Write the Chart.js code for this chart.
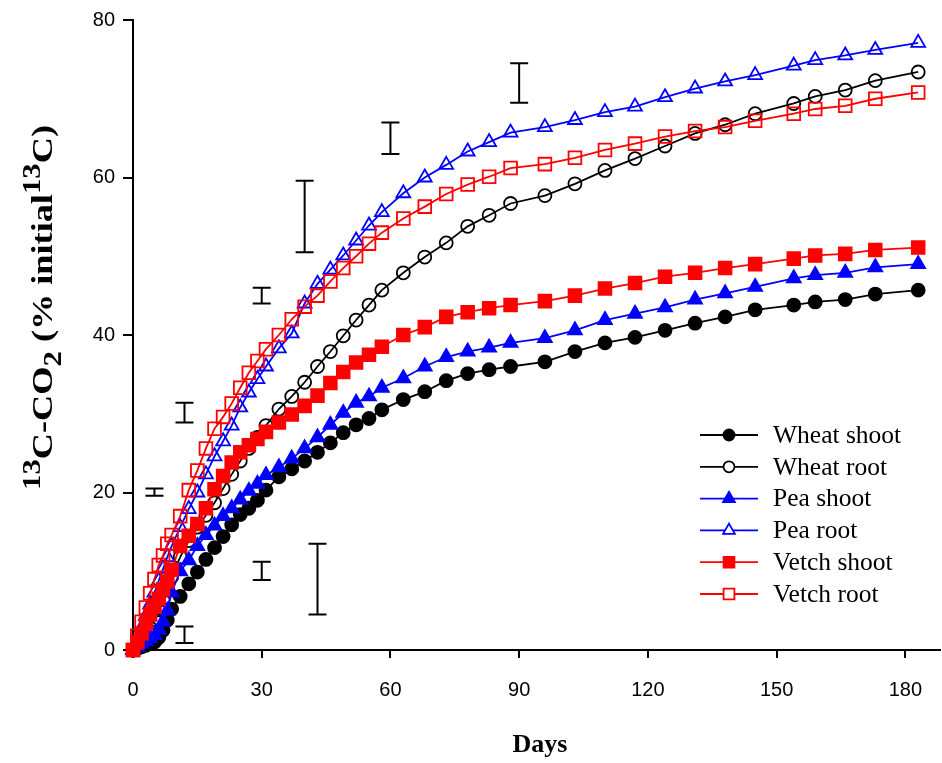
<!DOCTYPE html>
<html>
<head>
<meta charset="utf-8">
<script src="https://cdn.jsdelivr.net/npm/chart.js@4.4.1/dist/chart.umd.min.js"></script>
<style>
  html, body { margin: 0; padding: 0; background: #fff; }
  #wrap { width: 942px; height: 763px; }
</style>
</head>
<body>
<div id="wrap"><canvas id="chart" width="942" height="763"></canvas></div>
<script>
// sampling days
const days = [0, 1, 2, 3, 4, 5, 6, 7, 8, 9,
  11, 13, 15, 17, 19,
  21, 23, 25, 27, 29, 31,
  34, 37, 40, 43, 46, 49, 52, 55, 58,
  63, 68, 73, 78, 83, 88,
  96, 103, 110, 117, 124, 131, 138, 145,
  154, 159, 166, 173, 183];

// 13C-CO2 (% initial 13C)
const wheatShoot = [0, 0.2, 0.4, 0.6, 0.9, 1.0, 1.6, 2.5, 3.8, 5.2,
  6.8, 8.4, 9.9, 11.5, 13.0,
  14.4, 15.9, 17.2, 18.0, 19.0, 20.3,
  22.0, 23.0, 24.0, 25.1, 26.3, 27.6, 28.6, 29.4, 30.5,
  31.8, 32.8, 34.2, 35.1, 35.6, 36.0,
  36.6, 37.9, 39.0, 39.7, 40.6, 41.5, 42.3, 43.2,
  43.8, 44.2, 44.5, 45.2, 45.7];

const wheatRoot = [0, 0.4, 1.0, 1.8, 2.8, 3.9, 5.1, 6.4, 7.7, 9.3,
  11.8, 13.9, 15.6, 17.1, 18.7,
  20.5, 22.3, 24.0, 25.6, 27.0, 28.5,
  30.6, 32.2, 34.0, 36.0, 37.9, 39.9, 41.9, 43.8, 45.7,
  47.9, 49.9, 51.7, 53.8, 55.2, 56.7,
  57.7, 59.2, 60.9, 62.4, 64.0, 65.6, 66.7, 68.1,
  69.4, 70.3, 71.1, 72.3, 73.4];

const peaShoot = [0, 0.4, 0.8, 1.1, 1.5, 1.9, 2.6, 3.6, 5.0, 7.3,
  10.0, 11.4, 13.2, 14.6, 15.8,
  17.0, 18.0, 19.1, 20.2, 21.1, 22.2,
  23.2, 24.3, 25.6, 27.0, 28.6, 30.1, 31.4, 32.2, 33.3,
  34.5, 36.0, 37.2, 37.9, 38.4, 39.0,
  39.6, 40.6, 41.9, 42.7, 43.5, 44.5, 45.3, 46.1,
  47.2, 47.6, 47.9, 48.6, 49.0];

const peaRoot = [0, 1.3, 2.8, 4.3, 5.8, 7.3, 8.8, 10.3, 11.8, 13.2,
  15.6, 17.9, 20.0, 22.3, 24.6,
  26.5, 28.5, 30.8, 32.7, 34.4, 36.0,
  38.3, 40.2, 44.0, 46.5, 48.3, 50.1, 52.0, 53.9, 55.6,
  58.0, 60.0, 61.6, 63.3, 64.5, 65.7,
  66.4, 67.3, 68.3, 69.0, 70.2, 71.3, 72.2, 73.0,
  74.2, 74.9, 75.5, 76.2, 77.1];

const vetchShoot = [0, 1.0, 2.1, 3.3, 4.5, 5.5, 6.5, 7.7, 8.7, 10.2,
  13.2, 14.5, 16.0, 18.0, 20.4,
  22.1, 23.8, 25.1, 26.0, 26.8, 27.7,
  28.9, 29.9, 31.0, 32.3, 33.9, 35.3, 36.5, 37.5, 38.5,
  40.0, 41.0, 42.3, 42.9, 43.4, 43.8,
  44.3, 45.0, 45.9, 46.6, 47.4, 47.9, 48.5, 49.0,
  49.7, 50.1, 50.3, 50.8, 51.1];

const vetchRoot = [0, 1.8, 3.6, 5.4, 7.2, 9.0, 10.8, 12.0, 13.5, 14.6,
  17.0, 20.3, 22.8, 25.6, 28.1,
  29.6, 31.3, 33.3, 35.2, 36.7, 38.2,
  40.0, 42.0, 43.6, 45.0, 46.8, 48.5, 50.0, 51.6, 53.0,
  54.8, 56.3, 57.9, 59.1, 60.1, 61.2,
  61.7, 62.5, 63.5, 64.3, 65.2, 65.9, 66.4, 67.2,
  68.1, 68.7, 69.1, 70.0, 70.8];

// free-standing error bars (LSD style)
const errDays = [5, 12, 12, 30, 30, 40, 43, 60, 90];
const errLow = [19.6, 28.9, 0.9, 44.0, 8.9, 50.5, 4.5, 63.0, 69.5];
const errHigh = [20.5, 31.4, 3.0, 46.0, 11.2, 59.6, 13.5, 67.0, 74.5];

const xTicks = [0, 30, 60, 90, 120, 150, 180];
const yTicks = [0, 20, 40, 60, 80];

const toXY = (vals) => days.map((d, i) => ({ x: d, y: vals[i] }));

const series = [
  { label: "Wheat shoot", data: wheatShoot, color: "#000000", style: "circle", filled: true, r: 6.5, order: 6 },
  { label: "Wheat root", data: wheatRoot, color: "#000000", style: "circle", filled: false, r: 6.5, order: 5 },
  { label: "Pea shoot", data: peaShoot, color: "#0000ff", style: "triangle", filled: true, r: 8, order: 4 },
  { label: "Pea root", data: peaRoot, color: "#0000ff", style: "triangle", filled: false, r: 8, order: 3 },
  { label: "Vetch shoot", data: vetchShoot, color: "#ff0000", style: "rect", filled: true, r: 9, order: 1 },
  { label: "Vetch root", data: vetchRoot, color: "#ff0000", style: "rect", filled: false, r: 9, order: 2 },
];

const datasets = series.map((s) => ({
  label: s.label,
  data: toXY(s.data),
  showLine: true,
  borderColor: s.color,
  borderWidth: 1.8,
  tension: 0,
  pointStyle: s.style,
  pointRadius: s.r,
  pointBorderWidth: 1.8,
  pointBorderColor: s.color,
  pointBackgroundColor: s.filled ? s.color : "rgba(0,0,0,0)",
  clip: false,
  order: s.order,
}));

// error bars + legend + axis titles
const extras = {
  id: "extras",
  afterDatasetsDraw(chart) {
    const ctx = chart.ctx;
    const xs = chart.scales.x, ys = chart.scales.y;
    ctx.save();
    ctx.strokeStyle = "#000";
    ctx.lineWidth = 2;
    errDays.forEach((d, i) => {
      const px = xs.getPixelForValue(d);
      const y1 = ys.getPixelForValue(errLow[i]);
      const y2 = ys.getPixelForValue(errHigh[i]);
      const cap = 9;
      ctx.beginPath();
      ctx.moveTo(px, y1); ctx.lineTo(px, y2);
      ctx.moveTo(px - cap, y1); ctx.lineTo(px + cap, y1);
      ctx.moveTo(px - cap, y2); ctx.lineTo(px + cap, y2);
      ctx.stroke();
    });

    // legend
    ctx.font = "25.5px 'Liberation Serif', 'Times New Roman', serif";
    ctx.textBaseline = "middle";
    ctx.textAlign = "left";
    series.forEach((s, i) => {
      const y = 435 + i * 31.8;
      ctx.strokeStyle = s.color;
      ctx.lineWidth = 1.8;
      ctx.beginPath();
      ctx.moveTo(700, y); ctx.lineTo(758, y);
      ctx.stroke();
      ctx.fillStyle = s.filled ? s.color : "#fff";
      ctx.lineWidth = 1.8;
      Chart.helpers.drawPoint(ctx, { pointStyle: s.style, radius: s.r * 0.85, rotation: 0, borderWidth: 1.8 }, 729, y);
      ctx.fillStyle = "#000";
      ctx.fillText(s.label, 773, y + 1);
    });

    // x title
    ctx.font = "bold 26px 'Liberation Serif', 'Times New Roman', serif";
    ctx.textAlign = "center";
    ctx.textBaseline = "alphabetic";
    ctx.fillText("Days", 540, 752);

    // y title with super/subscripts
    const base = 30;
    const parts = [
      { t: "13", dy: -0.4, s: 0.85 },
      { t: "C-CO", dy: 0, s: 1 },
      { t: "2", dy: 0.3, s: 0.85 },
      { t: " (% initial", dy: 0, s: 1 },
      { t: "13", dy: -0.4, s: 0.85 },
      { t: "C)", dy: 0, s: 1 },
    ];
    let total = 0;
    parts.forEach((p) => {
      ctx.font = "bold " + base * p.s + "px 'Liberation Serif', 'Times New Roman', serif";
      p.w = ctx.measureText(p.t).width;
      total += p.w;
    });
    const sx = 365 / total;
    ctx.translate(52, 490);
    ctx.rotate(-Math.PI / 2);
    ctx.scale(sx, 1);
    ctx.textAlign = "left";
    let cx = 0;
    parts.forEach((p) => {
      ctx.font = "bold " + base * p.s + "px 'Liberation Serif', 'Times New Roman', serif";
      ctx.fillText(p.t, cx, p.dy * base);
      cx += p.w;
    });
    ctx.restore();
  },
};

new Chart(document.getElementById("chart"), {
  type: "scatter",
  data: { datasets: datasets },
  options: {
    responsive: false,
    animation: false,
    layout: { autoPadding: false, padding: { top: 18, right: 0, left: 0, bottom: 0 } },
    plugins: {
      legend: { display: false },
      tooltip: { enabled: false },
    },
    scales: {
      x: {
        type: "linear",
        min: 0,
        max: 188,
        afterBuildTicks: (s) => { s.ticks = xTicks.map((v) => ({ value: v })); },
        afterFit: (s) => { s.height = 113; },
        grid: { drawOnChartArea: false, drawTicks: true, tickLength: 8, color: "#000", lineWidth: 2 },
        border: { display: true, color: "#000", width: 2 },
        ticks: { color: "#000", font: { family: "'Liberation Sans', Arial, sans-serif", size: 20 }, padding: 20, maxRotation: 0 },
      },
      y: {
        min: 0,
        max: 80,
        afterBuildTicks: (s) => { s.ticks = yTicks.map((v) => ({ value: v })); },
        afterFit: (s) => { s.width = 133; },
        grid: { drawOnChartArea: false, drawTicks: true, tickLength: 10, color: "#000", lineWidth: 2 },
        border: { display: true, color: "#000", width: 2 },
        ticks: { color: "#000", font: { family: "'Liberation Sans', Arial, sans-serif", size: 20 }, padding: 8 },
      },
    },
  },
  plugins: [extras],
});
</script>
</body>
</html>
